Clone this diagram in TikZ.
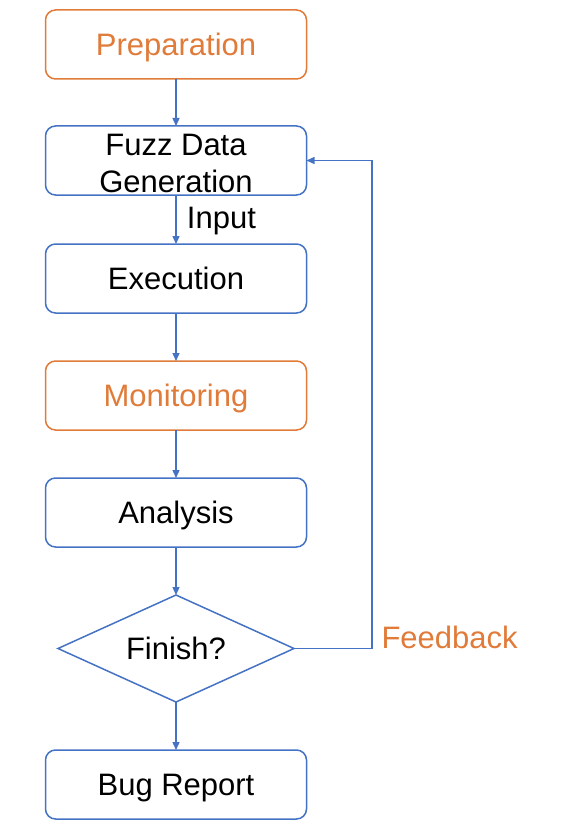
\documentclass[tikz,border=0pt]{standalone}
\usepackage{fontspec}
\setmainfont{Liberation Sans}
\usepackage{xcolor}
\usetikzlibrary{arrows.meta,positioning,shapes.geometric}
\definecolor{flowblue}{HTML}{4472C4}
\definecolor{floworange}{HTML}{E07B39}

\begin{document}
\begin{tikzpicture}[x=1pt,y=1pt,>={Triangle[length=8pt,width=7pt]},
    node distance=48pt,
    bigfont/.style={font=\fontsize{31}{37}\selectfont},
    capmid/.style={text height=22pt, text depth=0pt},
    stagebox/.style={draw=flowblue, line width=1.5pt, rounded corners=10pt, fill=white,
        minimum width=261pt, minimum height=69pt, align=center, outer sep=0pt,
        bigfont, inner sep=2pt},
    hotbox/.style={stagebox, draw=floworange, text=floworange},
    flow/.style={->, draw=flowblue, line width=1.3pt}]
\useasboundingbox (0,0) rectangle (584,-832);
\node[hotbox, capmid] (prep) at (176,-44.5) {Preparation};
\node[stagebox, below=47pt of prep, inner ysep=0pt, text depth=0pt] (gen) {\rule{0pt}{26pt}Fuzz Data\\Generation};
\node[stagebox, capmid, below=49pt of gen] (exec) {Execution};
\node[hotbox, capmid, below=of exec] (mon) {Monitoring};
\node[stagebox, capmid, below=of mon] (ana) {Analysis};
\node[diamond, draw=flowblue, line width=1.5pt, minimum width=236pt, minimum height=107pt,
    aspect=2.2, inner sep=0pt, outer sep=0pt, bigfont, capmid, below=of ana] (fin) {Finish?};
\node[stagebox, capmid, below=of fin] (bug) {Bug Report};
\coordinate (loop) at (372,-648.5);

\draw[flow] (prep) -- (gen);
\draw[flow] (gen) -- node[right, xshift=7pt, yshift=-2pt, text=black, bigfont] (inlab) {Input} (exec);
\draw[flow] (exec) -- (mon);
\draw[flow] (mon) -- (ana);
\draw[flow] (ana) -- (fin);
\draw[flow] (fin) -- (bug);
\draw[flow] (fin.east) -- (loop) |- (gen.east);
\node[anchor=west, text=floworange, bigfont] (fblab) at (378,-637) {Feedback};
\end{tikzpicture}
\end{document}
